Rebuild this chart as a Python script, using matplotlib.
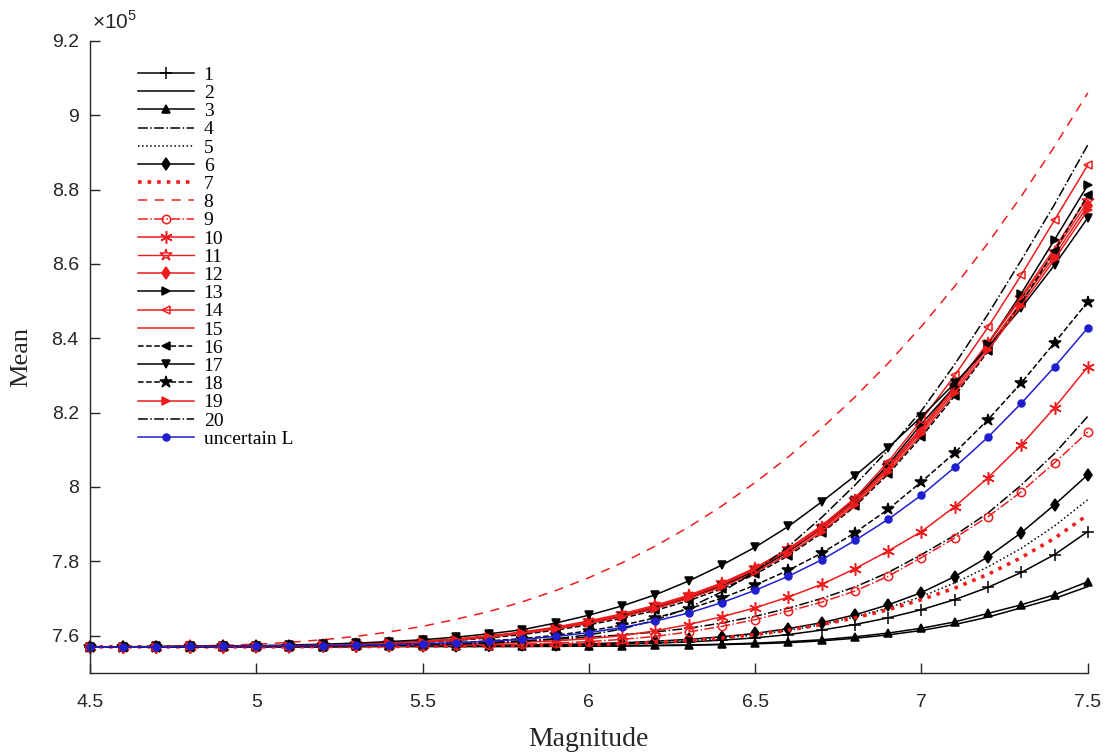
import matplotlib
matplotlib.use("Agg")
import matplotlib.pyplot as plt
from matplotlib.ticker import FuncFormatter
import numpy as np

# --------------------------------------------------------------
# Data (mean values, units of 1e5), magnitude 4.5 .. 7.5 step 0.1
# --------------------------------------------------------------
magnitude = [4.5, 4.6, 4.7, 4.8, 4.9, 5.0, 5.1, 5.2, 5.3, 5.4, 5.5,
             5.6, 5.7, 5.8, 5.9, 6.0, 6.1, 6.2, 6.3, 6.4, 6.5,
             6.6, 6.7, 6.8, 6.9, 7.0, 7.1, 7.2, 7.3, 7.4, 7.5]

mean_1 = [7.570, 7.570, 7.570, 7.570, 7.570, 7.570, 7.571, 7.571, 7.571, 7.572, 7.572,
          7.573, 7.573, 7.574, 7.575, 7.576, 7.578, 7.580, 7.583, 7.588, 7.594,
          7.603, 7.615, 7.630, 7.648, 7.670, 7.697, 7.730, 7.770, 7.818, 7.880]
mean_2 = [7.570, 7.570, 7.570, 7.570, 7.570, 7.570, 7.570, 7.570, 7.571, 7.571, 7.571,
          7.571, 7.571, 7.571, 7.571, 7.572, 7.572, 7.573, 7.574, 7.576, 7.578,
          7.581, 7.586, 7.593, 7.602, 7.614, 7.630, 7.650, 7.675, 7.700, 7.732]
mean_3 = [7.570, 7.570, 7.570, 7.570, 7.570, 7.570, 7.570, 7.570, 7.571, 7.571, 7.571,
          7.571, 7.571, 7.571, 7.572, 7.572, 7.573, 7.574, 7.575, 7.577, 7.580,
          7.584, 7.589, 7.597, 7.607, 7.620, 7.637, 7.660, 7.683, 7.710, 7.745]
mean_4 = [7.570, 7.570, 7.570, 7.571, 7.571, 7.572, 7.572, 7.573, 7.574, 7.575, 7.577,
          7.579, 7.582, 7.586, 7.590, 7.596, 7.602, 7.610, 7.620, 7.634, 7.652,
          7.674, 7.700, 7.731, 7.770, 7.818, 7.870, 7.930, 8.005, 8.090, 8.190]
mean_5 = [7.570, 7.570, 7.570, 7.570, 7.570, 7.570, 7.570, 7.571, 7.571, 7.571, 7.572,
          7.572, 7.573, 7.574, 7.575, 7.576, 7.578, 7.581, 7.586, 7.593, 7.602,
          7.614, 7.630, 7.650, 7.675, 7.705, 7.742, 7.785, 7.835, 7.895, 7.966]
mean_6 = [7.570, 7.570, 7.570, 7.570, 7.570, 7.570, 7.570, 7.571, 7.571, 7.572, 7.572,
          7.573, 7.574, 7.575, 7.576, 7.578, 7.581, 7.585, 7.590, 7.597, 7.606,
          7.619, 7.635, 7.656, 7.683, 7.716, 7.759, 7.812, 7.877, 7.952, 8.033]
mean_7 = [7.570, 7.570, 7.570, 7.570, 7.570, 7.570, 7.570, 7.571, 7.571, 7.571, 7.572,
          7.572, 7.573, 7.574, 7.575, 7.576, 7.578, 7.582, 7.587, 7.594, 7.603,
          7.615, 7.630, 7.648, 7.670, 7.697, 7.728, 7.765, 7.810, 7.862, 7.925]
mean_8 = [7.570, 7.570, 7.570, 7.572, 7.574, 7.577, 7.582, 7.589, 7.598, 7.610, 7.625,
          7.644, 7.665, 7.691, 7.721, 7.756, 7.796, 7.841, 7.892, 7.949, 8.012,
          8.081, 8.158, 8.242, 8.333, 8.432, 8.540, 8.656, 8.782, 8.916, 9.060]
mean_9 = [7.570, 7.570, 7.570, 7.570, 7.570, 7.570, 7.570, 7.571, 7.571, 7.572, 7.573,
          7.574, 7.575, 7.577, 7.580, 7.584, 7.590, 7.598, 7.610, 7.625, 7.643,
          7.666, 7.690, 7.720, 7.760, 7.810, 7.863, 7.920, 7.987, 8.065, 8.148]
mean_10 = [7.570, 7.570, 7.570, 7.570, 7.570, 7.571, 7.571, 7.572, 7.573, 7.574, 7.575,
           7.577, 7.579, 7.582, 7.586, 7.592, 7.600, 7.613, 7.630, 7.651, 7.675,
           7.704, 7.738, 7.780, 7.828, 7.880, 7.947, 8.025, 8.113, 8.213, 8.323]
mean_11 = [7.570, 7.570, 7.570, 7.571, 7.571, 7.572, 7.573, 7.575, 7.578, 7.581, 7.585,
           7.591, 7.600, 7.610, 7.623, 7.640, 7.659, 7.682, 7.709, 7.742, 7.782,
           7.833, 7.893, 7.966, 8.056, 8.160, 8.270, 8.387, 8.507, 8.633, 8.768]
mean_12 = [7.570, 7.570, 7.570, 7.571, 7.571, 7.572, 7.573, 7.575, 7.577, 7.580, 7.584,
           7.590, 7.598, 7.608, 7.620, 7.636, 7.654, 7.676, 7.703, 7.735, 7.775,
           7.826, 7.886, 7.958, 8.047, 8.150, 8.260, 8.377, 8.497, 8.622, 8.757]
mean_13 = [7.570, 7.570, 7.570, 7.571, 7.571, 7.572, 7.573, 7.574, 7.576, 7.579, 7.583,
           7.589, 7.597, 7.607, 7.619, 7.634, 7.652, 7.675, 7.702, 7.734, 7.774,
           7.826, 7.890, 7.965, 8.060, 8.170, 8.270, 8.385, 8.520, 8.665, 8.812]
mean_14 = [7.570, 7.570, 7.570, 7.571, 7.571, 7.572, 7.573, 7.575, 7.577, 7.580, 7.584,
           7.590, 7.598, 7.608, 7.621, 7.637, 7.656, 7.679, 7.707, 7.740, 7.782,
           7.834, 7.896, 7.970, 8.068, 8.180, 8.300, 8.430, 8.570, 8.718, 8.866]
mean_15 = [7.570, 7.570, 7.570, 7.571, 7.571, 7.572, 7.573, 7.575, 7.577, 7.580, 7.584,
           7.590, 7.598, 7.608, 7.621, 7.637, 7.656, 7.678, 7.705, 7.738, 7.778,
           7.830, 7.890, 7.962, 8.052, 8.156, 8.268, 8.388, 8.512, 8.642, 8.780]
mean_16 = [7.570, 7.570, 7.570, 7.571, 7.571, 7.572, 7.573, 7.574, 7.576, 7.578, 7.582,
           7.587, 7.594, 7.603, 7.615, 7.629, 7.647, 7.668, 7.694, 7.726, 7.765,
           7.815, 7.876, 7.948, 8.035, 8.135, 8.245, 8.365, 8.495, 8.635, 8.785]
mean_17 = [7.570, 7.570, 7.571, 7.571, 7.572, 7.573, 7.575, 7.577, 7.580, 7.584, 7.589,
           7.596, 7.605, 7.616, 7.634, 7.655, 7.680, 7.710, 7.747, 7.790, 7.838,
           7.894, 7.960, 8.030, 8.106, 8.189, 8.279, 8.376, 8.481, 8.597, 8.724]
mean_18 = [7.570, 7.570, 7.570, 7.570, 7.571, 7.571, 7.572, 7.573, 7.574, 7.576, 7.578,
           7.581, 7.586, 7.592, 7.601, 7.613, 7.628, 7.648, 7.672, 7.701, 7.736,
           7.776, 7.822, 7.877, 7.940, 8.014, 8.092, 8.181, 8.280, 8.388, 8.498]
mean_19 = [7.570, 7.570, 7.570, 7.571, 7.571, 7.572, 7.573, 7.574, 7.576, 7.579, 7.583,
           7.588, 7.596, 7.606, 7.618, 7.633, 7.651, 7.673, 7.700, 7.731, 7.770,
           7.820, 7.880, 7.952, 8.040, 8.142, 8.252, 8.368, 8.488, 8.612, 8.745]
mean_20 = [7.570, 7.570, 7.570, 7.570, 7.571, 7.571, 7.572, 7.572, 7.573, 7.574, 7.575,
           7.577, 7.580, 7.585, 7.592, 7.602, 7.618, 7.642, 7.675, 7.718, 7.772,
           7.840, 7.918, 8.005, 8.100, 8.205, 8.330, 8.465, 8.610, 8.760, 8.920]
mean_unc = [7.570, 7.570, 7.570, 7.571, 7.571, 7.572, 7.572, 7.573, 7.574, 7.576, 7.578,
            7.581, 7.585, 7.590, 7.598, 7.608, 7.622, 7.639, 7.661, 7.689, 7.722,
            7.760, 7.804, 7.856, 7.913, 7.978, 8.053, 8.134, 8.225, 8.323, 8.428]

labels = ["1", "2", "3", "4", "5", "6", "7", "8", "9", "10",
          "11", "12", "13", "14", "15", "16", "17", "18", "19", "20",
          "uncertain L"]
series = [mean_1, mean_2, mean_3, mean_4, mean_5, mean_6, mean_7, mean_8,
          mean_9, mean_10, mean_11, mean_12, mean_13, mean_14, mean_15,
          mean_16, mean_17, mean_18, mean_19, mean_20, mean_unc]

RED = "#ee1c1c"
BLUE = "#1f1fd0"
ASTER = (6, 2, 0)  # matlab-like asterisk
# (color, linestyle, marker, marker filled, linewidth, markersize)
styles = [
    ("black", "-", "+", True, 1.1, 9),
    ("black", "-", None, True, 1.1, 6),
    ("black", "-", "^", True, 1.1, 6),
    ("black", "-.", None, True, 1.1, 6),
    ("black", ":", None, True, 1.1, 6),
    ("black", "-", "d", True, 1.1, 6),
    (RED, ":", None, True, 2.6, 6),
    (RED, (0, (6, 5)), None, True, 1.1, 6),
    (RED, "-.", "o", False, 1.1, 6),
    (RED, "-", ASTER, True, 1.1, 9),
    (RED, "-", "*", False, 1.0, 9),
    (RED, "-", "d", True, 1.1, 6),
    ("black", "-", ">", True, 1.1, 6),
    (RED, "-", "<", False, 1.1, 6),
    (RED, "-", None, True, 1.1, 6),
    ("black", "--", "<", True, 1.1, 6),
    ("black", "-", "v", True, 1.1, 6),
    ("black", "--", "*", True, 1.1, 9),
    (RED, "-", ">", True, 1.1, 6),
    ("black", "-.", None, True, 1.1, 6),
    (BLUE, "-", "o", True, 1.1, 5),
]

plt.rcParams["font.family"] = ["Liberation Sans", "DejaVu Sans"]
plt.rcParams["mathtext.fontset"] = "custom"
plt.rcParams["mathtext.rm"] = "Liberation Sans"

fig = plt.figure(figsize=(11.1, 7.56), dpi=100)
ax = fig.add_axes([0.081, 0.110, 0.899, 0.836])

for vals, lab, (col, ls, mk, filled, lw, ms) in zip(series, labels, styles):
    ax.plot(magnitude, vals, color=col, linestyle=ls, linewidth=lw,
            marker=mk, markersize=ms,
            markerfacecolor=col if filled else "none",
            markeredgecolor=col, markeredgewidth=1.1,
            label=lab, clip_on=False)

ax.set_xlim(4.5, 7.5)
ax.set_ylim(7.5, 9.2)
ax.set_xticks(np.arange(4.5, 7.51, 0.5))
ax.set_yticks(np.arange(7.6, 9.21, 0.2))
fmt = FuncFormatter(lambda v, p: "%g" % round(v, 2))
ax.xaxis.set_major_formatter(fmt)
ax.yaxis.set_major_formatter(fmt)

ax.spines["top"].set_visible(False)
ax.spines["right"].set_visible(False)
for s in ["left", "bottom"]:
    ax.spines[s].set_color("#262626")
    ax.spines[s].set_linewidth(1.0)
ax.tick_params(direction="in", length=7, width=1.0, colors="#262626",
               labelsize=14)
ax.tick_params(axis="x", pad=15)
ax.tick_params(axis="y", pad=8)

ax.set_xlabel("Magnitude", fontsize=20, family="Liberation Serif",
              color="#262626", labelpad=12)
ax.set_ylabel("Mean", fontsize=19, family="Liberation Serif",
              color="#262626", labelpad=14)

ax.text(0.002, 1.012, r"$\times10^{5}$", transform=ax.transAxes,
        fontsize=15, color="#262626", va="bottom", ha="left")

leg = ax.legend(loc="upper left", bbox_to_anchor=(0.040, 0.972),
                frameon=False, prop={"family": "Liberation Serif", "size": 14},
                handlelength=2.9, handletextpad=0.5, labelspacing=0.03,
                borderaxespad=0.0)

fig.savefig("out.png", dpi=100)
